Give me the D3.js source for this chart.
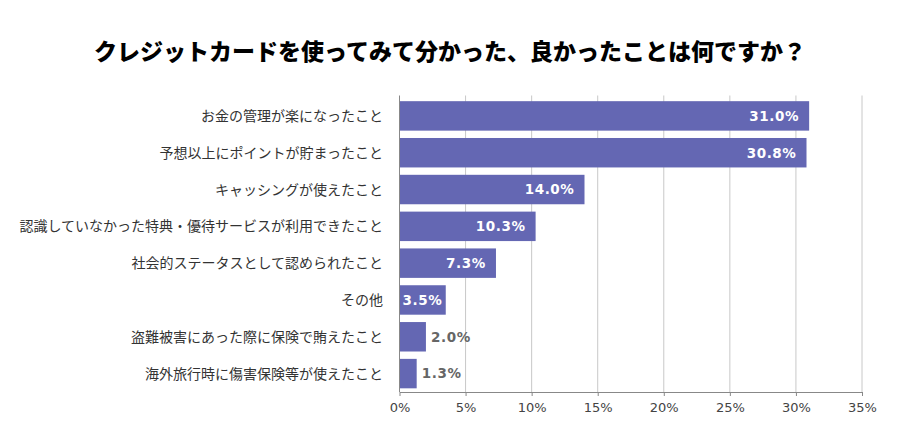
<!DOCTYPE html>
<html><head><meta charset="utf-8">
<script src="https://cdn.jsdelivr.net/npm/d3@7"></script>
<style>
html,body{margin:0;padding:0;background:#fff;}
svg{display:block;}
</style></head>
<body>
<svg id="chart" width="900" height="430"></svg>
<script>
const title = "クレジットカードを使ってみて分かった、良かったことは何ですか？";
const categories = [
  "お金の管理が楽になったこと",
  "予想以上にポイントが貯まったこと",
  "キャッシングが使えたこと",
  "認識していなかった特典・優待サービスが利用できたこと",
  "社会的ステータスとして認められたこと",
  "その他",
  "盗難被害にあった際に保険で賄えたこと",
  "海外旅行時に傷害保険等が使えたこと"
];
const values = [31.0, 30.8, 14.0, 10.3, 7.3, 3.5, 2.0, 1.3];
const tickValues = [0, 5, 10, 15, 20, 25, 30, 35];

const svg = d3.select("#chart");
const W = 900, H = 430;
const m = {left: 399.5, right: 38, top: 97.5, bottom: 38};
const x = d3.scaleLinear().domain([0, 35]).range([m.left, W - m.right]);
const y = d3.scaleBand().domain(categories).range([m.top, H - m.bottom]).paddingInner(0.2).paddingOuter(0.1);
const jp = "'Noto Sans CJK JP', 'Noto Sans', sans-serif";

svg.append("text").attr("x", 450).attr("y", 60).attr("text-anchor", "middle")
  .attr("font-family", jp).attr("font-weight", 900).attr("font-size", 23).attr("fill", "#000")
  .text(title);

// grid
svg.append("g").selectAll("line").data(tickValues.slice(1)).join("line")
  .attr("x1", d => x(d)).attr("x2", d => x(d))
  .attr("y1", m.top - 2).attr("y2", H - m.bottom)
  .attr("stroke", "#c8c8c8").attr("stroke-width", 1);

// bottom axis
const xAxis = svg.append("g").attr("transform", `translate(0,${H - m.bottom})`)
  .call(d3.axisBottom(x).tickValues(tickValues).tickFormat(d => d + "%").tickSize(4).tickSizeOuter(0));
xAxis.select(".domain").attr("stroke", "#888");
xAxis.selectAll(".tick line").attr("stroke", "#888");
xAxis.selectAll(".tick text").attr("font-family", "'DejaVu Sans', sans-serif").attr("font-size", 13)
  .attr("fill", "#444").attr("dy", "1em");

// bars
svg.append("g").selectAll("rect").data(values).join("rect")
  .attr("x", x(0)).attr("y", (d, i) => y(categories[i]))
  .attr("width", d => x(d) - x(0)).attr("height", y.bandwidth())
  .attr("fill", "#6467b3");

// left axis line
svg.append("line").attr("x1", x(0)).attr("x2", x(0)).attr("y1", m.top - 2).attr("y2", H - m.bottom)
  .attr("stroke", "#888");

// category labels
svg.append("g").selectAll("text").data(categories).join("text")
  .attr("x", 383).attr("y", d => y(d) + y.bandwidth() / 2).attr("dy", "0.36em")
  .attr("text-anchor", "end").attr("font-family", jp).attr("font-size", 14).attr("fill", "#333")
  .text(d => d);

// value labels
const vl = svg.append("g").selectAll("text").data(values).join("text")
  .attr("y", (d, i) => y(categories[i]) + y.bandwidth() / 2).attr("dy", "0.36em")
  .attr("font-family", "'DejaVu Sans', sans-serif").attr("font-weight", "bold").attr("font-size", 13.5)
  .attr("letter-spacing", 0.6)
  .text(d => d.toFixed(1) + "%");
vl.each(function(d) {
  const t = d3.select(this);
  const w = this.getComputedTextLength();
  if (d >= 3) {
    const xe = Math.max(x(d) - 10, x(0) + 3 + w);
    t.attr("x", xe).attr("text-anchor", "end").attr("fill", "#fff");
  } else {
    t.attr("x", x(d) + 5).attr("text-anchor", "start").attr("fill", "#666");
  }
});
</script>
</body></html>
